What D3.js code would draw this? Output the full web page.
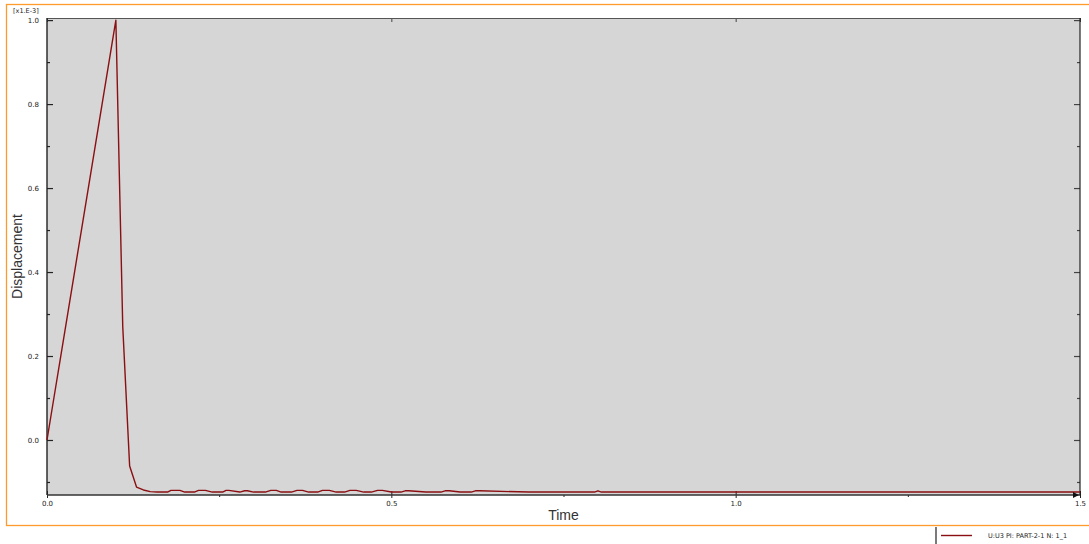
<!DOCTYPE html>
<html>
<head>
<meta charset="utf-8">
<script src="https://cdn.jsdelivr.net/npm/d3@7/dist/d3.min.js"></script>
<style>
  html, body { margin: 0; padding: 0; background: #ffffff; }
  svg { display: block; }
</style>
</head>
<body>
<svg id="chart" width="1089" height="544"></svg>
<script>
// Displacement history U3 of node 1 (values in units of 1e-3)
const timeValues = [
  0.00, 0.01, 0.02, 0.03, 0.04, 0.05, 0.06, 0.07, 0.08, 0.09, 0.10,
  0.11, 0.12, 0.13, 0.14, 0.15, 0.16, 0.175, 0.18, 0.193, 0.20, 0.214, 0.22, 0.23,
  0.24, 0.255, 0.26, 0.264, 0.28, 0.287, 0.291, 0.30, 0.317, 0.325, 0.333, 0.34,
  0.355, 0.363, 0.371, 0.38, 0.393, 0.40, 0.41, 0.42, 0.432, 0.44, 0.449, 0.46,
  0.471, 0.48, 0.487, 0.50, 0.514, 0.52, 0.525, 0.55, 0.572, 0.578, 0.584, 0.60,
  0.616, 0.622, 0.628, 0.70, 0.795, 0.80, 0.805, 0.90, 1.00, 1.10, 1.20, 1.30, 1.40, 1.50
];
const displacementValues = [
  0.000, 0.100, 0.200, 0.300, 0.400, 0.500, 0.600, 0.700, 0.800, 0.900, 1.000,
  0.270, -0.062, -0.112, -0.119, -0.123, -0.124, -0.124, -0.120, -0.120, -0.124, -0.124, -0.120, -0.120,
  -0.124, -0.124, -0.120, -0.120, -0.124, -0.121, -0.121, -0.124, -0.124, -0.120, -0.120, -0.124,
  -0.124, -0.120, -0.120, -0.124, -0.124, -0.120, -0.120, -0.124, -0.124, -0.120, -0.120, -0.124,
  -0.124, -0.120, -0.120, -0.124, -0.124, -0.121, -0.121, -0.124, -0.124, -0.121, -0.121, -0.124,
  -0.124, -0.121, -0.121, -0.124, -0.124, -0.121, -0.124, -0.124, -0.124, -0.124, -0.124, -0.124, -0.124, -0.124
];
const xTickValues = [0.0, 0.5, 1.0, 1.5];
const xTickLabels = ["0.0", "0.5", "1.0", "1.5"];
const xMinorTicks = [0.25, 0.75, 1.25];
const yTickValues = [0.0, 0.2, 0.4, 0.6, 0.8, 1.0];
const yTickLabels = ["0.0", "0.2", "0.4", "0.6", "0.8", "1.0"];
const yMinorTicks = [-0.1, 0.1, 0.3, 0.5, 0.7, 0.9];
const xTitle = "Time";
const yTitle = "Displacement";
const scaleNote = "[x1.E-3]";
const legendLabel = "U:U3 PI: PART-2-1 N: 1_1";

const svg = d3.select("#chart");
const x = d3.scaleLinear().domain([0, 1.5]).range([47, 1080]);
const y = d3.scaleLinear().domain([-0.131, 1.005]).range([495, 18]);

const [x0, x1] = x.range();
const [yb, yt] = y.range();

// Outer orange frame
svg.append("rect")
  .attr("x", 6.5).attr("y", 4.5)
  .attr("width", 1100).attr("height", 521)
  .attr("fill", "#ffffff")
  .attr("stroke", "#ff9a2e").attr("stroke-width", 1.3);

// Plot background
svg.append("rect")
  .attr("x", x0).attr("y", yt)
  .attr("width", x1 - x0).attr("height", yb - yt)
  .attr("fill", "#d6d6d6");

const fontFam = "'DejaVu Sans', sans-serif";

// Left axis: major ticks inside, minor ticks inside
const leftAxis = d3.axisLeft(y)
  .tickValues(yTickValues)
  .tickSizeInner(-6).tickSizeOuter(0)
  .tickPadding(8)
  .tickFormat((d, i) => yTickLabels[i]);
const gl = svg.append("g").attr("transform", `translate(${x0},0)`).call(leftAxis);
gl.select(".domain").remove();
gl.selectAll("line").attr("stroke", "#222").attr("stroke-width", 1.2);
gl.selectAll("text").attr("font-family", fontFam).attr("font-size", 7).attr("fill", "#1a1a1a");

const leftMinor = d3.axisLeft(y).tickValues(yMinorTicks).tickSizeInner(-3).tickSizeOuter(0).tickFormat("");
const glm = svg.append("g").attr("transform", `translate(${x0},0)`).call(leftMinor);
glm.select(".domain").remove();
glm.selectAll("line").attr("stroke", "#222").attr("stroke-width", 1.2);

// Right axis ticks (inside)
const rightAxis = d3.axisRight(y).tickValues(yTickValues).tickSizeInner(-6).tickSizeOuter(0).tickFormat("");
const gr = svg.append("g").attr("transform", `translate(${x1},0)`).call(rightAxis);
gr.select(".domain").remove();
gr.selectAll("line").attr("stroke", "#444").attr("stroke-width", 1.2);
const rightMinor = d3.axisRight(y).tickValues(yMinorTicks).tickSizeInner(-3).tickSizeOuter(0).tickFormat("");
const grm = svg.append("g").attr("transform", `translate(${x1},0)`).call(rightMinor);
grm.select(".domain").remove();
grm.selectAll("line").attr("stroke", "#444").attr("stroke-width", 1.2);

// Bottom axis: ticks crossing the axis line
const bottomAxis = d3.axisBottom(x)
  .tickValues(xTickValues)
  .tickSizeInner(3).tickSizeOuter(0)
  .tickPadding(3)
  .tickFormat((d, i) => xTickLabels[i]);
const gb = svg.append("g").attr("transform", `translate(0,${yb})`).call(bottomAxis);
gb.select(".domain").remove();
gb.selectAll("line").attr("y1", -4).attr("stroke", "#222").attr("stroke-width", 1);
gb.selectAll("text").attr("font-family", fontFam).attr("font-size", 7).attr("fill", "#1a1a1a");

const bottomMinor = d3.axisBottom(x).tickValues(xMinorTicks).tickSizeInner(2).tickSizeOuter(0).tickFormat("");
const gbm = svg.append("g").attr("transform", `translate(0,${yb})`).call(bottomMinor);
gbm.select(".domain").remove();
gbm.selectAll("line").attr("stroke", "#222").attr("stroke-width", 1);

// Top axis ticks
const topAxis = d3.axisTop(x).tickValues(xTickValues).tickSizeInner(-4).tickSizeOuter(0).tickFormat("");
const gt = svg.append("g").attr("transform", `translate(0,${yt})`).call(topAxis);
gt.select(".domain").remove();
gt.selectAll("line").attr("stroke", "#444").attr("stroke-width", 1);

// Plot border lines
svg.append("line").attr("x1", x0).attr("x2", x1).attr("y1", yt + 0.5).attr("y2", yt + 0.5)
  .attr("stroke", "#555").attr("stroke-width", 1.2);
svg.append("line").attr("x1", x1).attr("x2", x1).attr("y1", yt).attr("y2", yb)
  .attr("stroke", "#222").attr("stroke-width", 1.2);
svg.append("line").attr("x1", x0).attr("x2", x0).attr("y1", yt).attr("y2", yb)
  .attr("stroke", "#222").attr("stroke-width", 1.4);
svg.append("line").attr("x1", x0).attr("x2", x1).attr("y1", yb).attr("y2", yb)
  .attr("stroke", "#333").attr("stroke-width", 1.4);

// Data curve
const series = timeValues.map((t, i) => ({ t, v: displacementValues[i] }));
const line = d3.line().x(d => x(d.t)).y(d => y(d.v));
svg.append("path")
  .datum(series)
  .attr("d", line)
  .attr("fill", "none")
  .attr("stroke", "#8b0f12")
  .attr("stroke-width", 1.4)
  .attr("stroke-linejoin", "round");

// End marker at the last time value
const lx = x(timeValues[timeValues.length - 1]);
svg.append("path")
  .attr("d", `M${lx - 7},${yb - 3} L${lx - 1},${yb} L${lx - 7},${yb + 3} Z`)
  .attr("fill", "#111");

// Axis titles
svg.append("text")
  .attr("x", (x0 + x1) / 2).attr("y", 520)
  .attr("text-anchor", "middle")
  .attr("font-family", "'Liberation Sans', Arial, sans-serif")
  .attr("font-size", 14).attr("fill", "#333")
  .text(xTitle);
svg.append("text")
  .attr("transform", `translate(22,${(yt + yb) / 2}) rotate(-90)`)
  .attr("text-anchor", "middle")
  .attr("font-family", "'Liberation Sans', Arial, sans-serif")
  .attr("font-size", 14).attr("fill", "#333")
  .text(yTitle);

// Scale factor note
svg.append("text")
  .attr("x", 13).attr("y", 13)
  .attr("font-family", fontFam).attr("font-size", 6.5).attr("fill", "#222")
  .text(scaleNote);

// Legend
svg.append("line").attr("x1", 936).attr("x2", 936).attr("y1", 527).attr("y2", 544)
  .attr("stroke", "#222").attr("stroke-width", 1.2);
svg.append("line").attr("x1", 941).attr("x2", 972).attr("y1", 535.5).attr("y2", 535.5)
  .attr("stroke", "#8b0f12").attr("stroke-width", 1.4);
svg.append("text")
  .attr("x", 988).attr("y", 538)
  .attr("font-family", fontFam).attr("font-size", 6.5).attr("fill", "#222")
  .text(legendLabel);
</script>
</body>
</html>
